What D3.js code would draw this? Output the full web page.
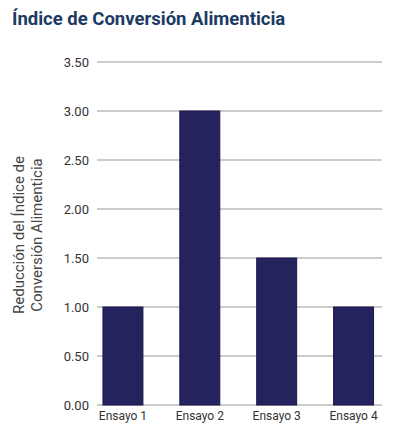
<!DOCTYPE html>
<html><head><meta charset="utf-8">
<script src="https://cdn.jsdelivr.net/npm/d3@7"></script>
<style>body{margin:0;background:#fff}</style></head>
<body><svg id="c" width="400" height="438"></svg>
<script>
const categories=["Ensayo 1","Ensayo 2","Ensayo 3","Ensayo 4"];
const values=[1.0,3.0,1.5,1.0];
const ticks=[0,0.5,1,1.5,2,2.5,3,3.5];
const svg=d3.select("#c");
svg.append("rect").attr("width",400).attr("height",438).attr("fill","#fff");
svg.append("text").attr("x",12).attr("y",25).text("Índice de Conversión Alimenticia")
 .attr("font-family","Roboto").attr("font-weight",700).attr("font-size",18.5).attr("fill","#1c3b63");
const y=d3.scaleLinear().domain([0,3.5]).range([405,62]);
const x=d3.scaleBand().domain(categories).range([84.5,392]).paddingInner(0.48).paddingOuter(0.24);
svg.selectAll(".g").data(ticks).join("line").attr("x1",97).attr("x2",382)
 .attr("y1",d=>y(d)).attr("y2",d=>y(d)).attr("stroke","#999").attr("stroke-width",1);
svg.selectAll(".t").data(ticks).join("text").attr("x",89).attr("y",d=>y(d)+4.5)
 .attr("text-anchor","end").text(d=>d.toFixed(2)).attr("font-family","Roboto").attr("font-size",13).attr("fill","#333");
svg.selectAll(".b").data(values).join("rect").attr("x",(d,i)=>x(categories[i])).attr("width",x.bandwidth())
 .attr("y",d=>y(d)).attr("height",d=>y(0)-y(d)).attr("fill","#25235e").attr("stroke","#1a1848").attr("stroke-width",1);
svg.selectAll(".c").data(categories).join("text").attr("x",d=>x(d)+x.bandwidth()/2).attr("y",420)
 .attr("text-anchor","middle").text(d=>d).attr("font-family","Roboto").attr("font-size",12).attr("fill","#333");
const yt=svg.append("text").attr("transform","translate(0,235) rotate(-90)").attr("text-anchor","middle")
 .attr("font-family","Roboto").attr("font-size",15).attr("fill","#444");
yt.append("tspan").attr("x",0).attr("y",24).text("Reducción del Índice de");
yt.append("tspan").attr("x",0).attr("y",42).text("Conversión Alimenticia");
</script></body></html>
